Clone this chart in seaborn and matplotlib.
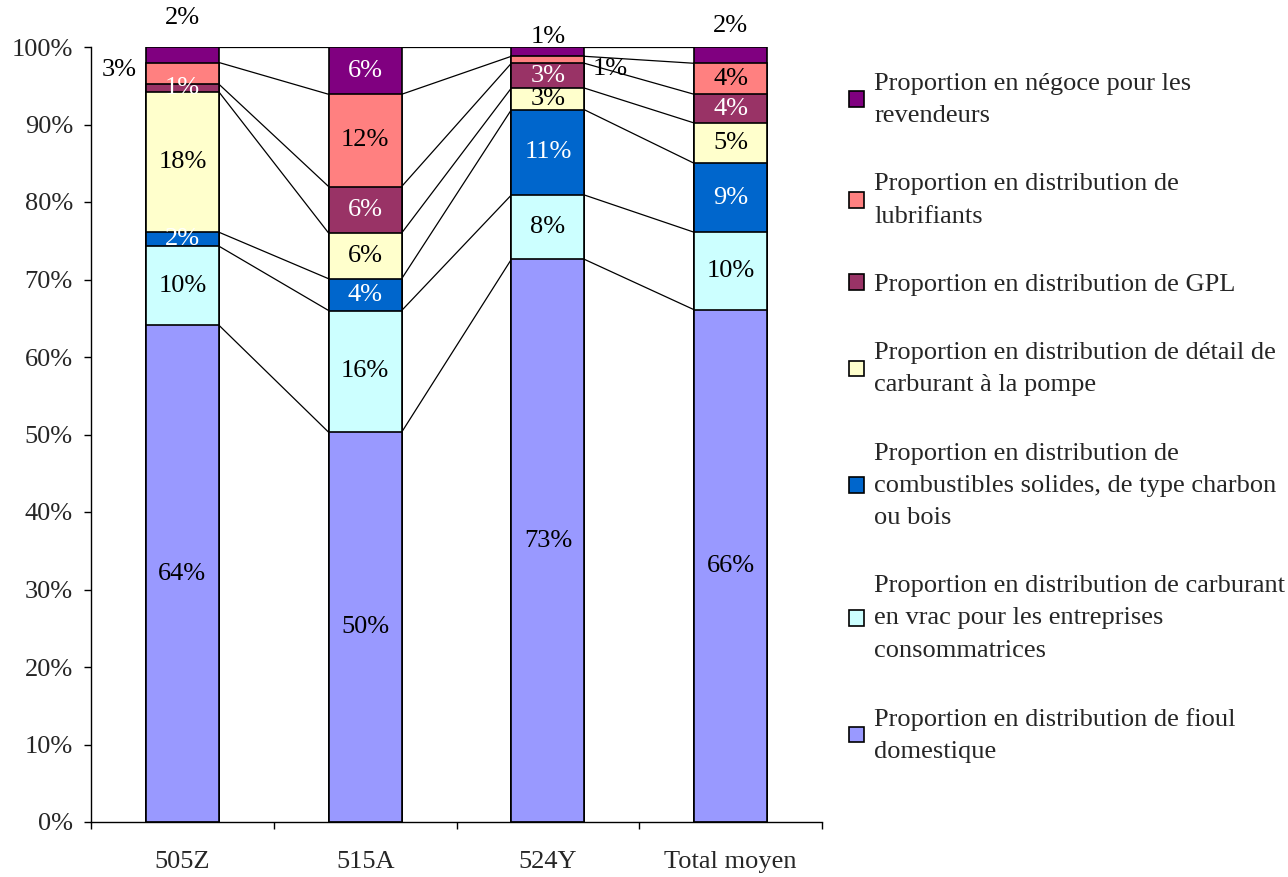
import numpy as np
import pandas as pd
import matplotlib
matplotlib.use("Agg")
import matplotlib.pyplot as plt
from matplotlib.patches import Patch
import seaborn as sns

categories = ["505Z", "515A", "524Y", "Total moyen"]
# bottom to top
series_names = [
    "Proportion en distribution de fioul\ndomestique",
    "Proportion en distribution de carburant\nen vrac pour les entreprises\nconsommatrices",
    "Proportion en distribution de\ncombustibles solides, de type charbon\nou bois",
    "Proportion en distribution de détail de\ncarburant à la pompe",
    "Proportion en distribution de GPL",
    "Proportion en distribution de\nlubrifiants",
    "Proportion en négoce pour les\nrevendeurs",
]
fioul = [64.1, 50.3, 72.6, 66.1]
vrac = [10.2, 15.7, 8.3, 10.0]
solides = [1.8, 4.1, 11.0, 8.9]
pompe = [18.1, 5.9, 2.8, 5.2]
gpl = [1.0, 6.0, 3.2, 3.7]
lubrifiants = [2.8, 11.9, 0.9, 4.0]
negoce = [2.0, 6.1, 1.2, 2.1]
series_values = [fioul, vrac, solides, pompe, gpl, lubrifiants, negoce]
y_ticks = [0, 10, 20, 30, 40, 50, 60, 70, 80, 90, 100]
y_tick_labels = [f"{t}%" for t in y_ticks]

colors = ["#9999FF", "#CCFFFF", "#0066CC", "#FFFFCC", "#993366", "#FF8080", "#800080"]
text_colors = ["black", "black", "white", "black", "white", "black", "white"]

# label placement overrides: (cat, series) -> (dx, y, color)
label_overrides = {
    (0, 6): (0.0, 103.7, "black"),
    (0, 5): (-0.345, 97.0, "black"),
    (2, 6): (0.0, 101.3, "black"),
    (2, 5): (0.34, 97.2, "black"),
    (3, 6): (0.0, 102.7, "black"),
    (1, 5): (0.0, None, "black"),
}

sns.set_style("ticks")
plt.rcParams["font.family"] = ["Liberation Serif", "DejaVu Serif"]
FS = 19

fig = plt.figure(figsize=(12.88, 8.77), dpi=100)
ax = fig.add_axes([91 / 1288, 55 / 877, 731 / 1288, 775 / 877])

vals = np.array(series_values)  # (series, cat)
cum = np.cumsum(vals, axis=0)
bar_w = 0.4
x = np.arange(len(categories))

# series lines
for s in range(len(series_values)):
    for i in range(len(categories) - 1):
        ax.plot([x[i] + bar_w / 2, x[i + 1] - bar_w / 2], [cum[s, i], cum[s, i + 1]],
                color="black", lw=0.9, zorder=1)

# stacked bars via overlapping cumulative bars, top-most first
for s in range(len(series_values) - 1, -1, -1):
    df = pd.DataFrame({"cat": categories, "val": cum[s]})
    sns.barplot(data=df, x="cat", y="val", order=categories, color=colors[s],
                width=bar_w, edgecolor="black", linewidth=1.2, saturation=1,
                ax=ax, zorder=2)

# labels
for s in range(len(series_values)):
    for i in range(len(categories)):
        v = vals[s, i]
        yc = cum[s, i] - v / 2
        dx, col = 0.0, text_colors[s]
        if (i, s) in label_overrides:
            odx, oy, ocol = label_overrides[(i, s)]
            dx = odx
            if oy is not None:
                yc = oy
            col = ocol
        ax.text(x[i] + dx, yc, f"{int(round(v))}%", ha="center", va="center",
                fontsize=FS, color=col, clip_on=False, zorder=5)

ax.set_xlim(-0.5, len(categories) - 0.5)
ax.set_ylim(0, 100)
ax.set_yticks(y_ticks)
ax.set_yticklabels(y_tick_labels, fontsize=FS)
ax.set_xticks(np.arange(len(categories) + 1) - 0.5)
ax.set_xticklabels([""] * (len(categories) + 1))
ax.set_xticks(x, minor=True)
ax.set_xticklabels(categories, minor=True, fontsize=FS)
ax.tick_params(axis="x", which="minor", length=0, pad=21)
ax.tick_params(axis="x", which="major", length=5, width=1, color="black", direction="out")
ax.tick_params(axis="y", length=5, width=1, color="black", direction="out", pad=8)
ax.set_xlabel("")
ax.set_ylabel("")
for sp in ["top", "right"]:
    ax.spines[sp].set_visible(False)
for sp in ["left", "bottom"]:
    ax.spines[sp].set_color("black")
    ax.spines[sp].set_linewidth(1)

handles = [Patch(facecolor=colors[s], edgecolor="black", linewidth=1.2)
           for s in range(len(series_values) - 1, -1, -1)]
labels = [series_names[s] for s in range(len(series_values) - 1, -1, -1)]
leg = fig.legend(handles, labels, loc="upper left", bbox_to_anchor=(849 / 1288, 1 - 73 / 877),
                 frameon=False, fontsize=FS, handlelength=0.55, handleheight=0.55,
                 handletextpad=0.4, labelspacing=1.75, borderpad=0, borderaxespad=0)
for t in leg.get_texts():
    t.set_linespacing(1.6)

fig.savefig("out.png", dpi=100, facecolor="white")
